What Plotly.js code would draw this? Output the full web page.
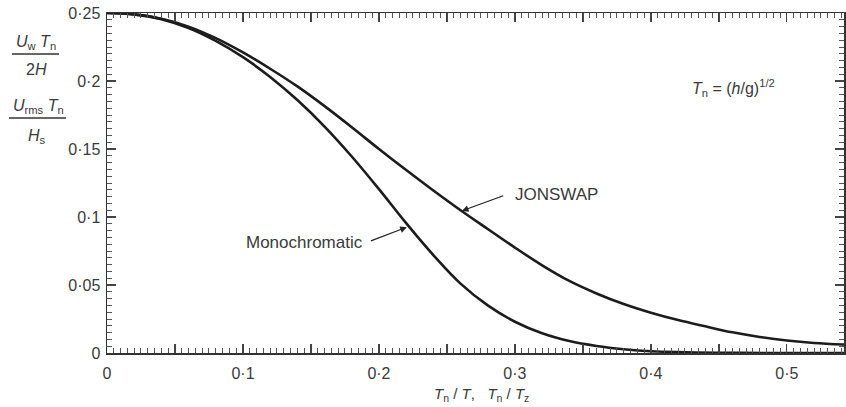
<!DOCTYPE html>
<html>
<head>
<meta charset="utf-8">
<script src="https://cdn.plot.ly/plotly-3.0.1.min.js"></script>
<style>html,body{margin:0;padding:0;background:#fff;}#chart{width:846px;height:407px;}</style>
</head>
<body>
<div id="chart"></div>
<script>
// ---- data ----
const monoX = [0, 0.02, 0.04, 0.06, 0.08, 0.10, 0.12, 0.14, 0.16, 0.18, 0.20, 0.22, 0.24, 0.26, 0.28, 0.30, 0.32, 0.34, 0.36, 0.38, 0.40, 0.45, 0.50, 0.542];
const monoY = [0.25, 0.2490, 0.2455, 0.2390, 0.2295, 0.2175, 0.2030, 0.1860, 0.1665, 0.1445, 0.1205, 0.0955, 0.0720, 0.0510, 0.0350, 0.0230, 0.0145, 0.0088, 0.0052, 0.0028, 0.0013, 0.0002, 0.0000, 0.0000];
const jonX = [0, 0.02, 0.04, 0.06, 0.08, 0.10, 0.12, 0.14, 0.16, 0.18, 0.20, 0.22, 0.24, 0.26, 0.28, 0.30, 0.32, 0.34, 0.36, 0.38, 0.40, 0.42, 0.44, 0.46, 0.48, 0.50, 0.52, 0.542];
const jonY = [0.25, 0.2490, 0.2458, 0.2400, 0.2315, 0.2210, 0.2090, 0.1960, 0.1815, 0.1660, 0.1500, 0.1345, 0.1195, 0.1050, 0.0912, 0.0775, 0.0645, 0.0530, 0.0438, 0.0360, 0.0296, 0.0242, 0.0196, 0.0152, 0.0118, 0.0092, 0.0074, 0.0062];
const xTickVals = [0, 0.05, 0.1, 0.15, 0.2, 0.25, 0.3, 0.35, 0.4, 0.45, 0.5];
const xTickText = ['0', '', '0\u00b71', '', '0\u00b72', '', '0\u00b73', '', '0\u00b74', '', '0\u00b75'];
const yTickVals = [0, 0.05, 0.1, 0.15, 0.2, 0.25];
const yTickText = ['0', '0\u00b705', '0\u00b71', '0\u00b715', '0\u00b72', '0\u00b725'];
const seriesNames = ['Monochromatic', 'JONSWAP'];

// ---- layout helpers (pixel -> paper) ----
const L = 107, T = 13, W = 737, H = 340;
const px = v => (v - L) / W;
const py = v => (T + H - v) / H;

const FONT = 'Liberation Sans, Arial, Helvetica, sans-serif';
const TXT = '#3a3a3a';
const LINE = '#1c1c1c';

const traces = [
  {x: monoX, y: monoY, name: seriesNames[0], mode: 'lines', line: {color: LINE, width: 2.6, shape: 'spline', smoothing: 1.0}, hoverinfo: 'skip'},
  {x: jonX, y: jonY, name: seriesNames[1], mode: 'lines', line: {color: LINE, width: 2.6, shape: 'spline', smoothing: 1.0}, hoverinfo: 'skip'}
];

const axisCommon = {
  showgrid: false, zeroline: false, showline: true, linecolor: '#333', linewidth: 1.5,
  mirror: 'ticks', ticks: 'inside', ticklen: 9, tickwidth: 1.2, tickcolor: '#444',
  tickfont: {family: FONT, size: 16, color: TXT}
};

const ann = [];
function txt(x, y, text, xanchor, size) {
  ann.push({xref: 'paper', yref: 'paper', x: x, y: y, text: text, showarrow: false,
    xanchor: xanchor || 'center', yanchor: 'middle', font: {family: FONT, size: size || 16, color: TXT}});
}
// y-axis title: two fractions
txt(px(36), py(42), '<i>U</i><sub>w</sub> <i>T</i><sub>n</sub>');
txt(px(36), py(69), '2<i>H</i>');
txt(px(38), py(106), '<i>U</i><sub>rms</sub> <i>T</i><sub>n</sub>');
txt(px(37), py(136), '<i>H</i><sub>s</sub>');
// x-axis title
txt(px(481), py(394), '<i>T</i><sub>n</sub> / <i>T</i>,   <i>T</i><sub>n</sub> / <i>T</i><sub>z</sub>', 'center', 15);
// formula
txt(px(690), py(88), '<i>T</i><sub>n</sub> = (<i>h</i>/g)<sup>1/2</sup>', 'left', 16);
// series labels
ann.push({xref: 'x', yref: 'y', x: 0.2985, y: 0.1165, text: 'JONSWAP', showarrow: false, xanchor: 'left', yanchor: 'middle', font: {family: FONT, size: 17, color: TXT}});
ann.push({xref: 'x', yref: 'y', x: 0.190, y: 0.0815, text: 'Monochromatic', showarrow: false, xanchor: 'right', yanchor: 'middle', font: {family: FONT, size: 17, color: TXT}});
// arrows
ann.push({xref: 'x', yref: 'y', axref: 'x', ayref: 'y', x: 0.261, y: 0.1045, ax: 0.2925, ay: 0.1160, text: '', showarrow: true, arrowhead: 2, arrowsize: 1.1, arrowwidth: 1.2, arrowcolor: '#222'});
ann.push({xref: 'x', yref: 'y', axref: 'x', ayref: 'y', x: 0.2205, y: 0.0925, ax: 0.193, ay: 0.0820, text: '', showarrow: true, arrowhead: 2, arrowsize: 1.1, arrowwidth: 1.2, arrowcolor: '#222'});

const shapes = [
  {type: 'line', xref: 'paper', yref: 'paper', x0: px(12), x1: px(59), y0: py(54), y1: py(54), line: {color: '#333', width: 1.3}},
  {type: 'line', xref: 'paper', yref: 'paper', x0: px(9), x1: px(66), y0: py(118), y1: py(118), line: {color: '#333', width: 1.3}}
];

const layout = {
  width: 846, height: 407,
  margin: {l: L, t: T, r: 846 - L - W, b: 407 - T - H, pad: 0},
  paper_bgcolor: '#fff', plot_bgcolor: '#fff',
  showlegend: false,
  xaxis: Object.assign({}, axisCommon, {
    range: [0, 0.542], tickvals: xTickVals, ticktext: xTickText, ticklabelstandoff: 5,
    minor: {dtick: 0.005, ticks: 'inside', ticklen: 5, tickwidth: 1, tickcolor: '#555', showgrid: false}
  }),
  yaxis: Object.assign({}, axisCommon, {
    range: [0, 0.25], tickvals: yTickVals, ticktext: yTickText, ticklabelstandoff: 2,
    minor: {dtick: 0.005, ticks: 'inside', ticklen: 5, tickwidth: 1, tickcolor: '#555', showgrid: false}
  }),
  annotations: ann,
  shapes: shapes
};

Plotly.newPlot('chart', traces, layout, {staticPlot: true, displayModeBar: false});
</script>
</body>
</html>
